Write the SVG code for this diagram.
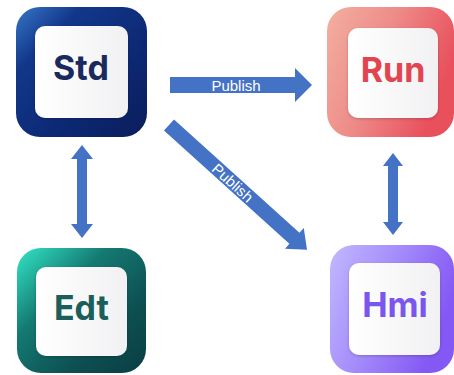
<svg xmlns="http://www.w3.org/2000/svg" width="454" height="375" viewBox="0 0 454 375">
  <defs>
    <linearGradient id="gStd" x1="0" y1="0" x2="1" y2="1">
      <stop offset="0" stop-color="#3676c8"/>
      <stop offset="0.25" stop-color="#12378a"/>
      <stop offset="0.7" stop-color="#0c2670"/>
      <stop offset="1" stop-color="#0a1d5a"/>
    </linearGradient>
    <linearGradient id="gRun" x1="0" y1="0" x2="1" y2="0.4">
      <stop offset="0" stop-color="#f2b0a0"/>
      <stop offset="0.5" stop-color="#ee8a88"/>
      <stop offset="1" stop-color="#e8505c"/>
    </linearGradient>
    <linearGradient id="gEdt" x1="0" y1="0" x2="1" y2="1">
      <stop offset="0" stop-color="#33e6c6"/>
      <stop offset="0.35" stop-color="#147a72"/>
      <stop offset="0.7" stop-color="#0d4f52"/>
      <stop offset="1" stop-color="#0a3d44"/>
    </linearGradient>
    <linearGradient id="gHmi" x1="0" y1="0" x2="1" y2="0.4">
      <stop offset="0" stop-color="#c2b8ff"/>
      <stop offset="0.5" stop-color="#a48cfa"/>
      <stop offset="1" stop-color="#8458f4"/>
    </linearGradient>
    <linearGradient id="gWhite" x1="0" y1="0" x2="1" y2="0">
      <stop offset="0" stop-color="#ffffff"/>
      <stop offset="1" stop-color="#f1f1f3"/>
    </linearGradient>
    <filter id="shadow" x="-20%" y="-20%" width="140%" height="140%">
      <feDropShadow dx="0" dy="1" stdDeviation="1.5" flood-color="#000" flood-opacity="0.2"/>
    </filter>
  </defs>
  <style>
    .inner { fill: url(#gWhite); filter: url(#shadow); }
    .lbl { font-family: Inter, "Open Sans", "Liberation Sans", sans-serif; font-weight: 700; font-size: 34px; text-anchor: middle; }
    .arrow { fill: #4472C4; }
    .pub { font-family: "Liberation Sans", Arial, sans-serif; font-size: 15px; fill: #ffffff; text-anchor: middle; }
  </style>

  <g id="connectors">
    <g id="std-run">
      <polygon class="arrow" points="170,77 295,77 295,68 312,85 295,102 295,93 170,93"/>
      <text class="pub" x="236" y="90.5">Publish</text>
    </g>
    <g id="std-hmi" transform="translate(169,125) rotate(42.1)">
      <polygon class="arrow" points="0,-7.5 169,-7.5 169,-14 186,0 169,14 169,7.5 0,7.5"/>
      <text class="pub" x="86" y="5.5">Publish</text>
    </g>
    <polygon id="std-edt" class="arrow" points="82,145 93,159 87,159 87,224 93,224 82,238 71,224 77,224 77,159 71,159"/>
    <polygon id="run-hmi" class="arrow" points="393,153 403,166 398,166 398,222 403,222 393,235 383,222 388,222 388,166 383,166"/>
  </g>

  <g id="std">
    <rect x="16" y="7" width="131" height="130" rx="24" fill="url(#gStd)"/>
    <rect class="inner" x="35" y="26" width="93" height="92" rx="10"/>
    <text class="lbl" x="81" y="80" fill="#1b2a5e">Std</text>
  </g>

  <g id="run">
    <rect x="327" y="7" width="127" height="130" rx="24" fill="url(#gRun)"/>
    <rect class="inner" x="348" y="28" width="90" height="90" rx="10"/>
    <text class="lbl" x="393" y="82" fill="#e2454f">Run</text>
  </g>

  <g id="edt">
    <rect x="17" y="248" width="129" height="125" rx="24" fill="url(#gEdt)"/>
    <rect class="inner" x="36" y="267" width="91" height="89" rx="10"/>
    <text class="lbl" x="81.5" y="320" fill="#1b5e5a">Edt</text>
  </g>

  <g id="hmi">
    <rect x="330" y="245" width="124" height="128" rx="24" fill="url(#gHmi)"/>
    <rect class="inner" x="349" y="263" width="91" height="92" rx="10"/>
    <text class="lbl" x="395" y="317" fill="#7a55ee">Hmi</text>
  </g>
</svg>
